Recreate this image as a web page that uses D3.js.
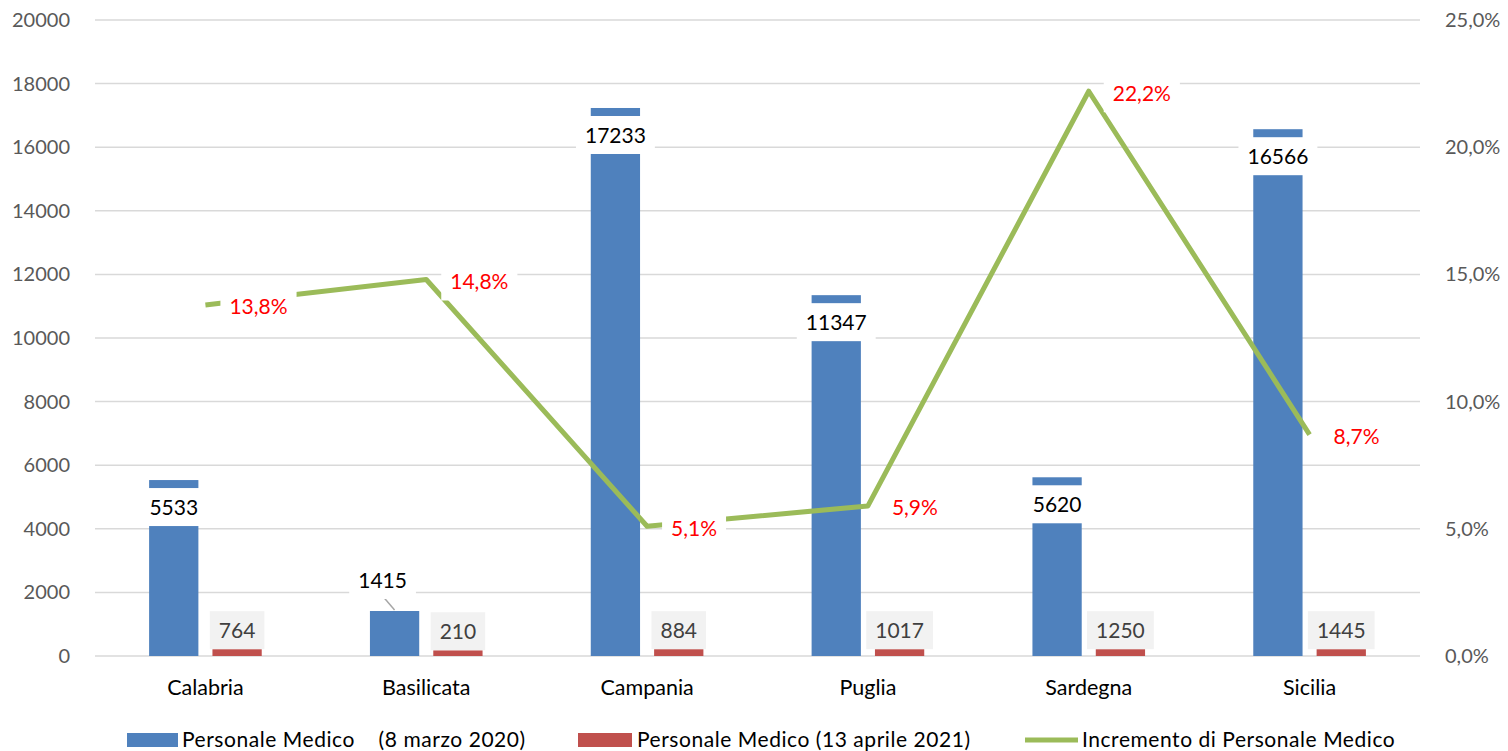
<!DOCTYPE html>
<html lang="it">
<head>
<meta charset="UTF-8">
<title>Personale Medico</title>
<script src="https://d3js.org/d3.v7.min.js"></script>
<style>
    body { margin: 0; background: #fff; font-family: Lato, "Open Sans", sans-serif; }
    text { font-family: Lato, "Open Sans", sans-serif; }
</style>
</head>
<body>
<svg width="1508" height="751"></svg>
<script>
// dati
const regioni = ["Calabria", "Basilicata", "Campania", "Puglia", "Sardegna", "Sicilia"];
const medici2020 = [5533, 1415, 17233, 11347, 5620, 16566];
const medici2021 = [764, 210, 884, 1017, 1250, 1445];
// altezza delle barre rosse come appare nel grafico (scala sinistra)
const medici2021Barra = [215, 180, 215, 215, 215, 215];
const incremento = [0.138, 0.148, 0.051, 0.059, 0.222, 0.087];
const tickSinistra = [0, 2000, 4000, 6000, 8000, 10000, 12000, 14000, 16000, 18000, 20000];
const tickDestra = [0, 0.05, 0.10, 0.15, 0.20, 0.25];
const legenda = ["Personale Medico    (8 marzo 2020)", "Personale Medico (13 aprile 2021)", "Incremento di Personale Medico"];

const BLU = "#4f81bd", ROSSO = "#c0504d", VERDE = "#9bbb59";

const svg = d3.select("svg");
const mLeft = 95, mRight = 1420, mTop = 20, mBottom = 656;

const x0 = d3.scaleBand().domain(regioni).range([mLeft, mRight]).paddingInner(0.49).paddingOuter(0.245);
const x1 = d3.scaleBand().domain([0, 1]).range([0, x0.bandwidth()]).paddingInner(0.222);
const y = d3.scaleLinear().domain([0, 20000]).range([mBottom, mTop]);
const y2 = d3.scaleLinear().domain([0, 0.25]).range([mBottom, mTop]);
const cx = d => x0(d) + x0.bandwidth() / 2;

// griglia
svg.append("g").selectAll("line").data(tickSinistra).enter().append("line")
    .attr("x1", mLeft).attr("x2", mRight)
    .attr("y1", d => y(d)).attr("y2", d => y(d))
    .attr("stroke", "#d9d9d9").attr("stroke-width", 1.5);

// asse sinistro
const axL = svg.append("g").attr("transform", `translate(${mLeft - 25},0)`)
    .call(d3.axisLeft(y).tickValues(tickSinistra).tickSize(0).tickPadding(0).tickFormat(d3.format("d")));
axL.select(".domain").remove();
axL.selectAll("text").attr("font-size", 20).attr("fill", "#595959").attr("font-family", "Lato");

// asse destro
const fmtPct = d => d3.format(".1%")(d).replace(".", ",");
const axR = svg.append("g").attr("transform", `translate(${mRight + 25},0)`)
    .call(d3.axisRight(y2).tickValues(tickDestra).tickSize(0).tickPadding(0).tickFormat(fmtPct));
axR.select(".domain").remove();
axR.selectAll("text").attr("font-size", 20).attr("fill", "#595959").attr("font-family", "Lato");

// asse categorie
const axB = svg.append("g").attr("transform", `translate(0,${mBottom + 24})`)
    .call(d3.axisBottom(x0).tickSize(0).tickPadding(0));
axB.select(".domain").remove();
axB.selectAll("text").attr("font-size", 21.5).attr("fill", "#000").attr("font-family", "Lato");

// barre
const dati = regioni.map((r, i) => ({ r, a: medici2020[i], b: medici2021[i], bh: medici2021Barra[i], p: incremento[i], i }));

svg.append("g").selectAll("rect").data(dati).enter().append("rect")
    .attr("x", d => x0(d.r) + x1(0)).attr("width", x1.bandwidth())
    .attr("y", d => y(d.a)).attr("height", d => mBottom - y(d.a))
    .attr("fill", BLU);

svg.append("g").selectAll("rect").data(dati).enter().append("rect")
    .attr("x", d => x0(d.r) + x1(1)).attr("width", x1.bandwidth())
    .attr("y", d => y(d.bh)).attr("height", d => mBottom - y(d.bh))
    .attr("fill", ROSSO);

// linea incremento
const linea = d3.line().x(d => cx(d.r)).y(d => y2(d.p));
svg.append("path").datum(dati).attr("d", linea)
    .attr("fill", "none").attr("stroke", VERDE).attr("stroke-width", 5).attr("stroke-linejoin", "round");

// etichetta con riquadro
const FS = 21;
function etichetta(g, txt, cxp, cyp, fill, color) {
    const grp = g.append("g");
    const box = grp.append("rect").attr("fill", fill);
    const t = grp.append("text").text(txt)
        .attr("x", cxp).attr("y", cyp).attr("dy", "0.36em")
        .attr("text-anchor", "middle").attr("font-size", FS).attr("fill", color);
    const w = t.node().getComputedTextLength() + 18;
    box.attr("x", cxp - w / 2).attr("y", cyp - 19).attr("width", w).attr("height", 38);
    return w;
}

const lab = svg.append("g");

// etichette barre blu
dati.forEach(d => {
    const bx = x0(d.r) + x1(0) + x1.bandwidth() / 2;
    const yTop = y(d.a);
    if (mBottom - yTop > 60) {
        etichetta(lab, d.a, bx, yTop + 27, "#fff", "#000");
    } else {
        // etichetta sopra la barra con linea guida
        lab.append("line").attr("x1", bx - 12).attr("y1", yTop - 15).attr("x2", bx).attr("y2", yTop - 1)
            .attr("stroke", "#a6a6a6").attr("stroke-width", 1.5);
        etichetta(lab, d.a, bx - 12, yTop - 31, "#fff", "#000");
    }
});

// etichette barre rosse
dati.forEach(d => {
    const bx = x0(d.r) + x1(1) + x1.bandwidth() / 2;
    etichetta(lab, d.b, bx, y(d.bh) - 19, "#f2f2f2", "#404040");
});

// etichette percentuali
dati.forEach(d => {
    const px = cx(d.r), py = y2(d.p);
    const t = lab.append("text").text(fmtPct(d.p)).attr("font-size", FS).attr("visibility", "hidden");
    const w = t.node().getComputedTextLength();
    t.remove();
    etichetta(lab, fmtPct(d.p), px + 24 + w / 2, py + 2, "#fff", "#ff0000");
});

// legenda
const leg = svg.append("g").attr("font-size", 21).attr("letter-spacing", 0.55);
const ly = 740;
leg.append("rect").attr("x", 127).attr("y", ly - 7).attr("width", 51).attr("height", 14).attr("fill", BLU);
leg.append("text").attr("x", 182).attr("y", ly).attr("dy", "0.35em")
    .style("white-space", "pre").text(legenda[0]);
leg.append("rect").attr("x", 578).attr("y", ly - 7).attr("width", 54).attr("height", 14).attr("fill", ROSSO);
leg.append("text").attr("x", 637).attr("y", ly).attr("dy", "0.35em").text(legenda[1]);
leg.append("line").attr("x1", 1025).attr("x2", 1078).attr("y1", ly).attr("y2", ly)
    .attr("stroke", VERDE).attr("stroke-width", 5);
leg.append("text").attr("x", 1082).attr("y", ly).attr("dy", "0.35em").text(legenda[2]);
</script>
</body>
</html>
